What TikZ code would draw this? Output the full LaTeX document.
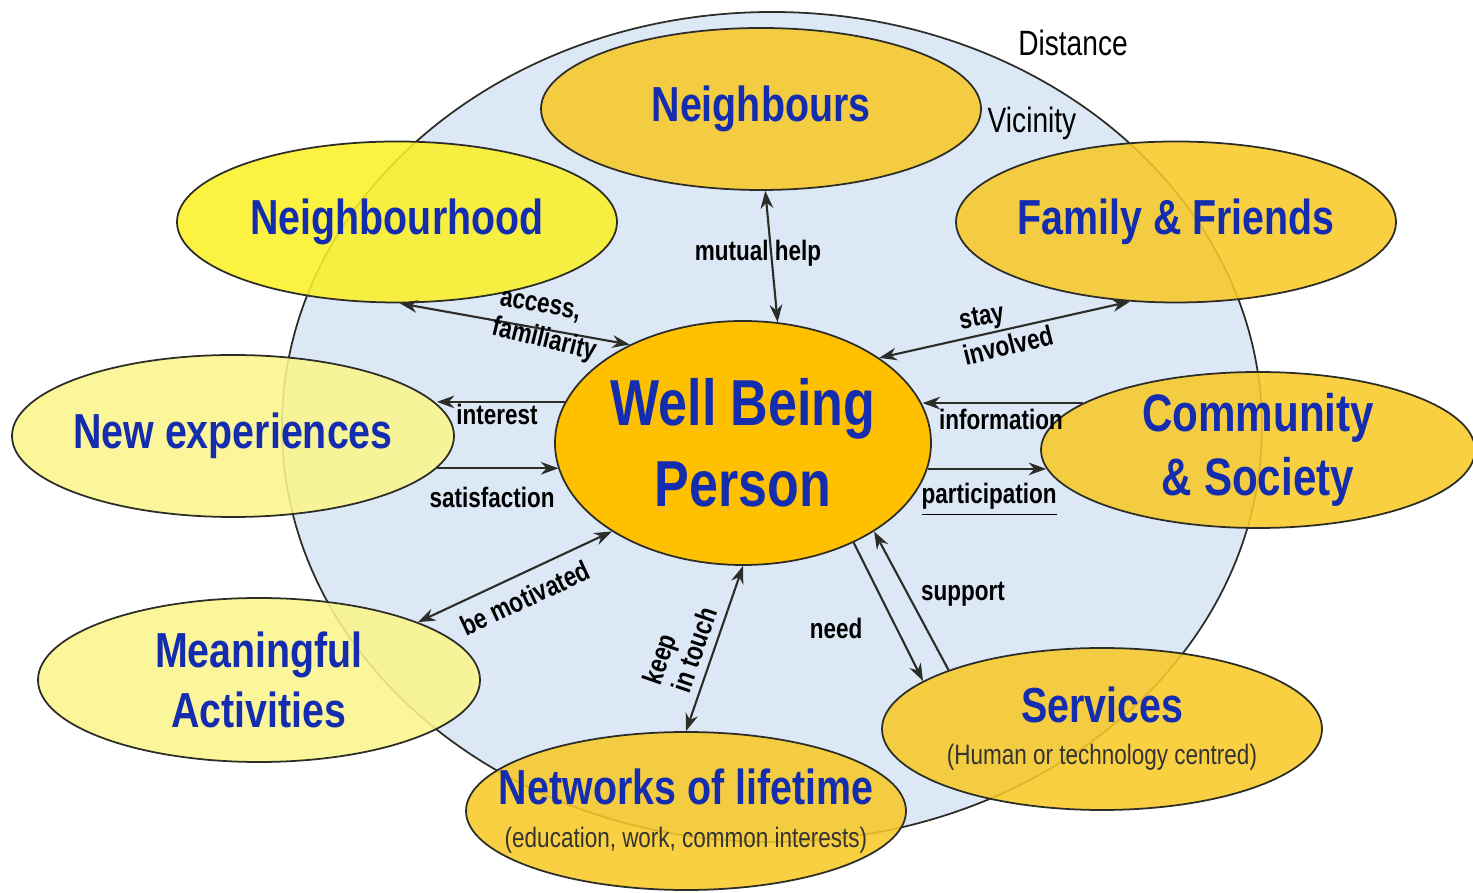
\documentclass[tikz,border=0pt]{standalone}
\usepackage{fontspec}
\setmainfont{Liberation Sans}[FakeStretch=0.8]
\usepackage{tikz}
\usetikzlibrary{arrows.meta,shapes.geometric}
\definecolor{figline}{RGB}{45,45,40}
\definecolor{figsky}{RGB}{221,232,247}
\definecolor{figgold}{RGB}{247,201,40}
\definecolor{figsun}{RGB}{255,192,0}
\definecolor{figlemon}{RGB}{250,240,40}
\definecolor{figpale}{RGB}{250,245,140}
\definecolor{figtext}{RGB}{20,45,175}
\tikzset{
  bub/.style  ={ellipse, draw=figline, line width=0.5pt, inner sep=-0.5cm, fill opacity=0.88, text opacity=1},
  ttl/.style  ={font=\fontsize{14}{17}\selectfont\bfseries, text=figtext, align=center},
  lab/.style  ={font=\fontsize{8}{9}\selectfont\bfseries, inner sep=1pt},
  zone/.style ={font=\fontsize{10}{12}\selectfont, inner sep=1pt},
  ptr/.style  ={draw=figline, line width=0.6pt, -{Stealth[length=5pt,width=3.6pt]}},
  ptrs/.style ={ptr, {Stealth[length=5pt,width=3.6pt]}-{Stealth[length=5pt,width=3.6pt]}},
}
\newcommand{\subt}{\fontsize{8}{9}\selectfont\mdseries\color{black!80}}

\begin{document}
\begin{tikzpicture}[x=1cm,y=-1cm]
  \useasboundingbox (0,0) rectangle (14.73,8.93);
  % outer circle
  \draw[draw=figline,line width=0.5pt,fill=figsky] (7.72,4.27) ellipse [x radius=4.90,y radius=4.15];
  \node[zone] (dist) at (10.73,0.43) {Distance};
  \node[zone] (vic) at (10.32,1.23) {Vicinity};
  % bubbles
  \node[bub,ttl,fill=figgold,minimum width=4.40cm,minimum height=1.62cm] (nbrs) at (7.61,1.09) {Neighbours};
  \node[bub,ttl,fill=figlemon,minimum width=4.40cm,minimum height=1.61cm] (nhood) at (3.97,2.22) {Neighbourhood};
  \node[bub,ttl,fill=figgold,minimum width=4.40cm,minimum height=1.61cm] (fam) at (11.76,2.22) {Family \& Friends};
  \node[bub,ttl,fill=figpale,minimum width=4.42cm,minimum height=1.62cm] (nexp) at (2.33,4.36) {New experiences};
  \node[bub,ttl,fill=figgold,minimum width=4.34cm,minimum height=1.56cm,font=\fontsize{15}{18}\selectfont\bfseries] (cmty) at (12.58,4.50) {Community\\ \& Society};
  \node[bub,ttl,fill=figpale,minimum width=4.42cm,minimum height=1.64cm] (mact) at (2.59,6.80) {Meaningful\\Activities};
  \node[bub,ttl,fill=figgold,minimum width=4.40cm,minimum height=1.58cm] (netw) at (6.86,8.11) {Networks of lifetime\\[-5pt]{\subt (education, work, common interests)}};
  \node[bub,ttl,fill=figgold,minimum width=4.40cm,minimum height=1.62cm] (serv) at (11.02,7.29) {Services\\[-5pt]{\subt (Human or technology centred)}};
  \node[bub,ttl,fill=figsun,fill opacity=1,minimum width=3.76cm,minimum height=2.44cm,font=\fontsize{18.5}{23}\selectfont\bfseries] (wbp) at (7.43,4.43) {Well Being\\Person};
  % links
  \draw[ptrs] (nbrs.-87) -- (wbp.74);
  \node[lab] (mh) at (7.58,2.53) {mutual help};
  \draw[ptrs] (nhood.-88) -- (wbp.139);
  \node[lab,rotate=-10] (acc) at (5.40,3.07) {access,};
  \node[lab,rotate=-14] (fmy) at (5.44,3.40) {familiarity};
  \draw[ptrs] (wbp.32) -- (fam.240);
  \node[lab,rotate=10] (sty) at (9.82,3.19) {stay};
  \node[lab,rotate=14] (inv) at (10.08,3.45) {involved};
  \draw[ptr] (wbp.167) -- (wbp.167 -| nexp.9);
  \node[lab] (intr) at (4.97,4.14) {interest};
  \draw[ptr] (nexp.-9) -- (nexp.-9 -| wbp.-172);
  \node[lab] (sat) at (4.92,4.97) {satisfaction};
  \draw[ptr] (cmty.165) -- (cmty.165 -| wbp.12);
  \node[lab] (info) at (10.01,4.19) {information};
  \draw[ptr] (wbp.-8) -- (wbp.-8 -| cmty.185);
  \node[lab] (part) at (9.89,5.00) {\underline{participation}};
  \draw[ptrs] (mact.20) -- (wbp.214);
  \node[lab,rotate=25] (mot) at (5.25,5.98) {be motivated};
  \draw[ptrs] (wbp.-90) -- (netw.90);
  \node[lab,rotate=71] (kp) at (6.62,6.60) {keep};
  \node[lab,rotate=71] (tch) at (6.94,6.50) {in touch};
  \draw[ptr] (wbp.-42) -- (serv.165);
  \node[lab] (nd) at (8.36,6.28) {need};
  \draw[ptr] (serv.159) -- (wbp.-34);
  \node[lab] (sup) at (9.63,5.94) {support};
\end{tikzpicture}
\end{document}
